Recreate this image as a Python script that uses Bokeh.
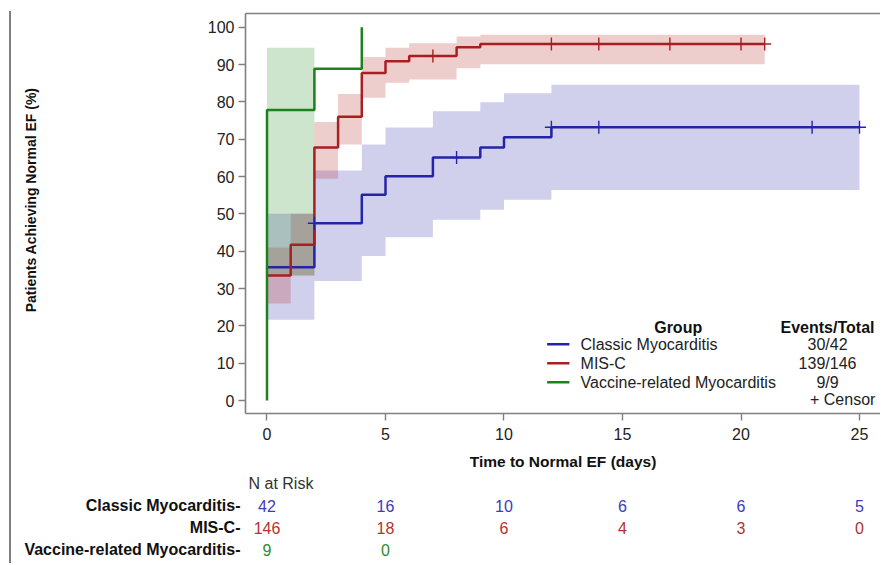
from bokeh.plotting import figure
from bokeh.models import Range1d, FixedTicker, LinearAxis, Div
from bokeh.layouts import column, row
from bokeh.core.properties import value
from bokeh.embed import file_html
from bokeh.resources import INLINE

FONT = "Liberation Sans"

# ---------------- data ----------------
groups = ["Classic Myocarditis", "MIS-C", "Vaccine-related Myocarditis"]
events_total = ["30/42", "139/146", "9/9"]

classic_t = [0, 2, 4, 5, 7, 9, 10, 12, 25]
classic_s = [35.7, 47.5, 55.1, 60.1, 65.1, 67.8, 70.5, 73.2, 73.2]
classic_ci_t = [0, 2, 4, 5, 7, 9, 10, 12, 25]
classic_lo = [21.6, 32.0, 38.7, 43.7, 48.4, 51.1, 53.8, 56.4, 56.4]
classic_hi = [50.0, 61.6, 68.6, 73.1, 77.5, 79.9, 82.3, 84.6, 84.6]
classic_cens_t = [2, 8, 12, 14, 23, 25]
classic_cens_s = [47.5, 65.1, 73.2, 73.2, 73.2, 73.2]

misc_t = [0, 1, 2, 3, 4, 5, 6, 8, 9, 21]
misc_s = [33.5, 41.7, 67.8, 76.0, 87.7, 90.9, 92.3, 94.6, 95.5, 95.5]
misc_ci_t = [0, 1, 2, 3, 4, 5, 6, 8, 9, 21]
misc_lo = [26.0, 33.5, 59.4, 68.6, 81.1, 85.1, 86.0, 89.0, 90.1, 90.1]
misc_hi = [41.0, 50.0, 74.6, 82.1, 92.0, 94.5, 95.7, 97.5, 98.0, 98.0]
misc_cens_t = [7, 12, 14, 17, 20, 21]
misc_cens_s = [92.3, 95.5, 95.5, 95.5, 95.5, 95.5]

vacc_t = [0, 0, 2, 4]
vacc_s = [0.0, 77.8, 88.9, 100.0]
vacc_ci_t = [0, 2]
vacc_lo = [33.5, 33.5]
vacc_hi = [94.5, 94.5]

x_ticks = [0, 5, 10, 15, 20, 25]
y_ticks = [0, 10, 20, 30, 40, 50, 60, 70, 80, 90, 100]

risk_days = [0, 5, 10, 15, 20, 25]
risk_classic = [42, 16, 10, 6, 6, 5]
risk_misc = [146, 18, 6, 4, 3, 0]
risk_vacc = [9, 0]

# ---------------- styles ----------------
LINE_COLORS = ["#2424a6", "#a81f1f", "#1d821d"]
BAND_COLORS = ["#3a3ab0", "#b83030", "#2f8f2f"]
TEXT_COLORS = ["#3c3cbc", "#b23232", "#2e8b2e"]
AXIS_C = "#808080"
FS = "16px"

W = 868
p = figure(width=W, height=475, x_range=Range1d(-0.907, 25.886),
           y_range=Range1d(-3.48, 103.67), output_backend="svg",
           toolbar_location=None, min_border_left=233, min_border_right=0,
           min_border_top=13, min_border_bottom=62)
p.outline_line_color = None
p.xgrid.visible = False
p.ygrid.visible = False
p.background_fill_color = "white"

# confidence bands
p.varea_step(x=classic_ci_t, y1=classic_lo, y2=classic_hi, step_mode="after",
             fill_color=BAND_COLORS[0], fill_alpha=0.24)
p.varea_step(x=misc_ci_t, y1=misc_lo, y2=misc_hi, step_mode="after",
             fill_color=BAND_COLORS[1], fill_alpha=0.24)
p.varea_step(x=vacc_ci_t, y1=vacc_lo, y2=vacc_hi, step_mode="after",
             fill_color=BAND_COLORS[2], fill_alpha=0.24)

# curves
p.step(classic_t, classic_s, mode="after", line_color=LINE_COLORS[0], line_width=2.5)
p.step(misc_t, misc_s, mode="after", line_color=LINE_COLORS[1], line_width=2.5)
p.step(vacc_t, vacc_s, mode="after", line_color=LINE_COLORS[2], line_width=2.5)

# censor marks
p.scatter(classic_cens_t, classic_cens_s, marker="cross", size=13,
          line_color=LINE_COLORS[0], line_width=1.4)
p.scatter(misc_cens_t, misc_cens_s, marker="cross", size=13,
          line_color=LINE_COLORS[1], line_width=1.4)

# axes
for ax in (p.xaxis[0], p.yaxis[0]):
    ax.axis_line_color = AXIS_C
    ax.axis_line_width = 1.6
    ax.major_tick_line_color = AXIS_C
    ax.major_tick_line_width = 1.4
    ax.major_tick_out = 7
    ax.major_tick_in = 0
    ax.minor_tick_line_color = None
    ax.major_label_text_font = FONT
    ax.major_label_text_font_size = FS
    ax.major_label_text_color = "#222222"
p.xaxis.ticker = FixedTicker(ticks=x_ticks)
p.yaxis.ticker = FixedTicker(ticks=y_ticks)
p.xaxis.major_label_standoff = 7
p.yaxis.major_label_standoff = 4
p.xaxis.axis_label = "Time to Normal EF (days)"
p.xaxis.axis_label_text_font = FONT
p.xaxis.axis_label_text_font_style = "bold"
p.xaxis.axis_label_text_font_size = "15.5px"
p.xaxis.axis_label_text_color = "#111111"
p.xaxis.axis_label_standoff = 10

# y title: leading no-break spaces move the visible text up a little
p.yaxis.axis_label = "\u00a0" * 7 + "Patients Achieving Normal EF (%)"
p.yaxis.axis_label_text_font = FONT
p.yaxis.axis_label_text_font_style = "bold"
p.yaxis.axis_label_text_font_size = "14px"
p.yaxis.axis_label_text_color = "#111111"
p.yaxis.axis_label_standoff = 166

top = LinearAxis(ticker=FixedTicker(ticks=[]), axis_line_color=AXIS_C,
                 axis_line_width=1.6, major_tick_out=0, major_tick_in=0,
                 minor_tick_out=0, minor_tick_in=0, major_label_standoff=0)
p.add_layout(top, "above")

# legend (layout positions in data units)
LEG_HDR_Y = 19.5
LEG_ROWS_Y = [15.05, 9.96, 4.9]
LEG_CENSOR_Y = 0.2
LEG_LINE_X0, LEG_LINE_X1 = 11.82, 12.76
LEG_LABEL_X = 13.23
LEG_GROUP_X = 17.35
LEG_EVENTS_X = 23.65

p.text(x=[LEG_GROUP_X, LEG_EVENTS_X], y=[LEG_HDR_Y, LEG_HDR_Y],
       text=["Group", "Events/Total"], text_align="center", text_baseline="middle",
       text_font=value(FONT), text_font_style="bold", text_font_size=FS,
       text_color="#111111")
p.segment(x0=[LEG_LINE_X0] * 3, x1=[LEG_LINE_X1] * 3, y0=LEG_ROWS_Y, y1=LEG_ROWS_Y,
          line_color=LINE_COLORS, line_width=2.5)
p.text(x=[LEG_LABEL_X] * 3, y=LEG_ROWS_Y, text=groups, text_align="left",
       text_baseline="middle", text_font=value(FONT), text_font_size=FS,
       text_color="#222222")
p.text(x=[LEG_EVENTS_X] * 3, y=LEG_ROWS_Y, text=events_total, text_align="center",
       text_baseline="middle", text_font=value(FONT), text_font_size=FS,
       text_color="#222222")
p.text(x=[25.67], y=[LEG_CENSOR_Y], text=["+ Censor"], text_align="right",
       text_baseline="middle", text_font=value(FONT), text_font_size=FS,
       text_color="#222222")

# ---------------- risk table ----------------
q = figure(width=W, height=88, x_range=p.x_range, y_range=Range1d(0.377, 4.377),
           output_backend="svg", toolbar_location=None, x_axis_location=None,
           min_border_left=233, min_border_right=0, min_border_top=0,
           min_border_bottom=0)
q.outline_line_color = None
q.xgrid.visible = False
q.ygrid.visible = False
q.yaxis.ticker = FixedTicker(ticks=[3, 2, 1])
q.yaxis.major_label_overrides = {3: groups[0] + "-", 2: groups[1] + "-", 1: groups[2] + "-"}
q.yaxis.axis_line_color = None
q.yaxis.major_tick_line_color = None
q.yaxis.minor_tick_line_color = None
q.yaxis.major_tick_out = 0
q.yaxis.major_label_standoff = 5
q.yaxis.major_label_text_font = FONT
q.yaxis.major_label_text_font_style = "bold"
q.yaxis.major_label_text_font_size = FS
q.yaxis.major_label_text_color = "#111111"

q.text(x=[-0.78], y=[4], text=["N at Risk"], text_align="left", text_baseline="middle",
       text_font=value(FONT), text_font_size=FS, text_color="#333333")
for vals, yrow, col in ((risk_classic, 3, TEXT_COLORS[0]),
                        (risk_misc, 2, TEXT_COLORS[1]),
                        (risk_vacc, 1, TEXT_COLORS[2])):
    q.text(x=risk_days[:len(vals)], y=[yrow] * len(vals), text=[str(v) for v in vals],
           text_align="center", text_baseline="middle", text_font=value(FONT),
           text_font_size=FS, text_color=col)

edge = Div(text="", width=2, height=552, margin=(11, 1, 0, 9),
           styles={"background-color": "#7f7f7f"})
layout = row(edge, column(p, q))

open("out.html", "w").write(file_html(layout, INLINE))
